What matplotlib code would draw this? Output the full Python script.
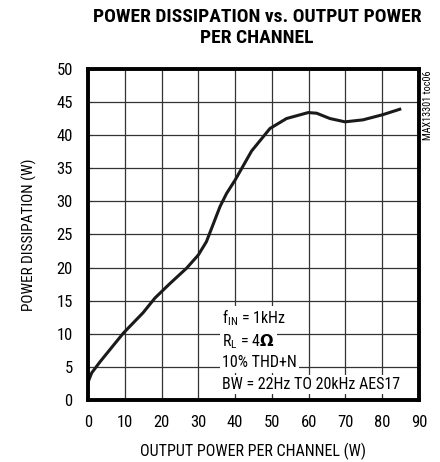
import matplotlib.pyplot as plt
from matplotlib import font_manager

# curve
pout = [0, 1.0, 3.3, 9.6, 15, 18.2, 22.3, 26.8, 30, 32.2, 33.6, 35.9, 37.7, 40,
        44.5, 49.5, 54, 59.9, 62.2, 65.8, 69.9, 74.8, 80.3, 84.8]
pdiss = [2.7, 4.1, 5.8, 10.1, 13.2, 15.4, 17.6, 19.9, 21.9, 23.9, 25.9, 29.2, 31.2, 33.2,
         37.6, 41.0, 42.5, 43.4, 43.3, 42.5, 42.0, 42.3, 43.1, 43.9]

xticks = list(range(0, 91, 10))
yticks = list(range(0, 51, 5))
notes = ['f$_{\\mathregular{IN}}$ = 1kHz', 'R$_{\\mathregular{L}}$ = 4$\\mathbf{\\Omega}$',
         '10% THD+N', 'BW = 22Hz TO 20kHz AES17']
note_y = [12.4, 8.8, 5.6, 2.3]

# look for a narrow sans face, the chart uses a condensed Helvetica
narrow = None
stretch = 'normal'
entries = font_manager.fontManager.ttflist
for want in ['Liberation Sans Narrow', 'Roboto Condensed', 'Open Sans Condensed',
             'Noto Sans Condensed', 'DejaVu Sans Condensed']:
    if any(f.name == want for f in entries):
        narrow = want
        break
if narrow is None:
    for fam in ['Roboto', 'Noto Sans', 'Open Sans', 'DejaVu Sans', 'Liberation Sans']:
        hit = [f for f in entries if f.name == fam and f.stretch in
               ('condensed', 'semi-condensed', 'extra-condensed', 500, 375)]
        if hit:
            narrow = fam
            stretch = hit[0].stretch
            break

if narrow:
    plt.rcParams['font.family'] = [narrow, 'DejaVu Sans']
    plt.rcParams['font.stretch'] = stretch
    fs = 11.5
else:
    plt.rcParams['font.family'] = ['Liberation Sans', 'DejaVu Sans']
    fs = 10
plt.rcParams['mathtext.fontset'] = 'custom'
plt.rcParams['mathtext.rm'] = narrow or 'Liberation Sans'
plt.rcParams['mathtext.bf'] = 'DejaVu Sans:bold'

fig = plt.figure(figsize=(4.4, 4.62), dpi=100)
ax = fig.add_axes([0.2, 0.134, 0.752, 0.717])

ax.plot(pout, pdiss, color='#1a1a1a', lw=2.2, zorder=3)

ax.set_xlim(0, 90)
ax.set_ylim(0, 50)
ax.set_xticks(xticks)
ax.set_yticks(yticks)
ax.grid(True, color='#333333', lw=0.9)
ax.tick_params(direction='in', length=3, labelsize=fs + 0.5, pad=11, color='#333333')
for s in ax.spines.values():
    s.set_linewidth(2.8)
    s.set_zorder(4)

for txt, yy in zip(notes, note_y):
    ax.text(36.5, yy, txt, fontsize=fs, va='center', ha='left', zorder=2,
            bbox=dict(facecolor='white', edgecolor='none', pad=1.5))

ax.set_xlabel('OUTPUT POWER PER CHANNEL (W)', fontsize=fs, labelpad=9)
ax.set_ylabel('POWER DISSIPATION (W)', fontsize=fs - 0.5, labelpad=14)

fig.text(0.584, 0.94, 'POWER DISSIPATION vs. OUTPUT POWER\nPER CHANNEL',
         ha='center', va='center', fontsize=fs + 2.5, fontweight='bold', linespacing=1.2)
fig.text(0.972, 0.848, 'MAX13301 toc06', rotation=90, ha='center', va='top', fontsize=7.3)

fig.savefig('out.png', dpi=100)
